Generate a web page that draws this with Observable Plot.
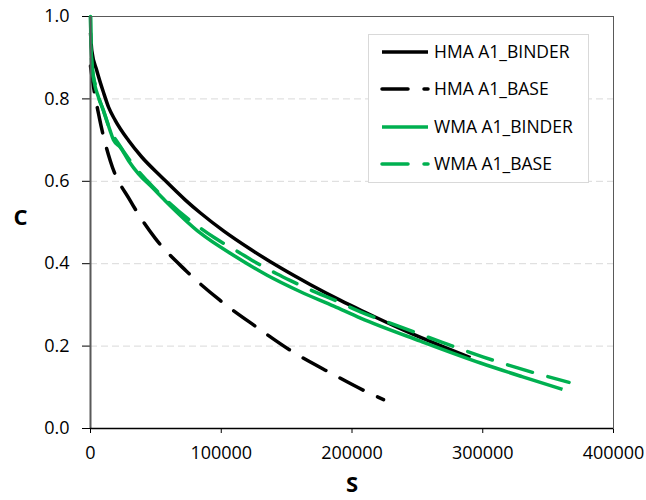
<!DOCTYPE html>
<html>
<head>
<meta charset="utf-8">
<script src="https://cdn.jsdelivr.net/npm/d3@7"></script>
<script src="https://cdn.jsdelivr.net/npm/@observablehq/plot@0.6"></script>
<style>
  html, body { margin: 0; padding: 0; background: #fff; }
  #chart { position: relative; width: 646px; height: 500px; }
</style>
</head>
<body>
<div id="chart"></div>
<script>
// ---- Data ----
const seriesNames = ["HMA A1_BINDER", "HMA A1_BASE", "WMA A1_BINDER", "WMA A1_BASE"];
const seriesColors = ["#000000", "#000000", "#00b050", "#00b050"];
const seriesDashed = [false, true, false, true];

const hmaBinderS = [0, 1000, 4800, 9900, 13800, 18900, 29100, 39200, 54500, 72400, 84100, 102000, 122400, 145300, 168300, 191200, 208800, 240000, 270000, 290600];
const hmaBinderC = [0.96, 0.917, 0.869, 0.816, 0.780, 0.748, 0.699, 0.659, 0.610, 0.555, 0.523, 0.479, 0.435, 0.390, 0.349, 0.311, 0.284, 0.238, 0.198, 0.172];

const hmaBaseS = [0, 760, 6900, 15300, 30600, 49700, 73000, 98700, 126200, 153700, 183500, 213800, 224100];
const hmaBaseC = [0.88, 0.862, 0.752, 0.648, 0.552, 0.461, 0.383, 0.312, 0.248, 0.188, 0.135, 0.085, 0.070];

const wmaBinderS = [0, 300, 2300, 6100, 9900, 15000, 17600, 22700, 29100, 36700, 46900, 57100, 84100, 109600, 135100, 160600, 186100, 206500, 252400, 298300, 330000, 361000];
const wmaBinderC = [1.0, 0.93, 0.853, 0.804, 0.772, 0.723, 0.700, 0.683, 0.650, 0.618, 0.586, 0.553, 0.474, 0.420, 0.372, 0.332, 0.297, 0.268, 0.212, 0.159, 0.126, 0.095];

const wmaBaseS = [0, 1000, 4000, 10000, 15000, 21400, 34200, 43100, 57100, 94300, 113400, 123700, 142800, 153000, 173400, 184900, 206500, 236000, 269000, 300000, 333000, 366000];
const wmaBaseC = [1.0, 0.88, 0.83, 0.77, 0.725, 0.691, 0.634, 0.602, 0.557, 0.464, 0.428, 0.408, 0.375, 0.359, 0.329, 0.314, 0.283, 0.248, 0.209, 0.174, 0.141, 0.112];

const xTicks = [0, 100000, 200000, 300000, 400000];
const yTicks = [0.0, 0.2, 0.4, 0.6, 0.8, 1.0];
const gridTicks = [0.2, 0.4, 0.6, 0.8];
const xLabel = "S";
const yLabel = "C";

// ---- Build rows ----
const allS = [hmaBinderS, hmaBaseS, wmaBinderS, wmaBaseS];
const allC = [hmaBinderC, hmaBaseC, wmaBinderC, wmaBaseC];
const rows = seriesNames.map((name, i) => allS[i].map((s, j) => ({series: name, S: s, C: allC[i][j]})));

const FONT = "'Open Sans', 'Liberation Sans', sans-serif";

const lineMarks = rows.map((data, i) => Plot.line(data, {
  x: "S", y: "C",
  stroke: seriesColors[i],
  strokeWidth: 3.5,
  strokeDasharray: seriesDashed[i] ? "26,16" : null,
  strokeLinecap: seriesDashed[i] ? "round" : "butt",
  strokeLinejoin: "round",
  curve: "monotone-x"
}));

const plot = Plot.plot({
  width: 646,
  height: 500,
  marginLeft: 90,
  marginRight: 33,
  marginTop: 16,
  marginBottom: 72,
  style: { fontFamily: FONT, fontSize: "18px", color: "#000", background: "#fff", overflow: "visible" },
  x: { domain: [0, 400000], ticks: xTicks, tickFormat: d => String(d), label: null, tickSize: 5, tickPadding: 13 },
  y: { domain: [0, 1], ticks: yTicks, tickFormat: d3.format(".1f"), label: null, tickSize: 8, tickPadding: 13 },
  marks: [
    Plot.ruleY(gridTicks, { stroke: "#d9d9d9", strokeWidth: 1, strokeDasharray: "7,4" }),
    Plot.frame({ stroke: "#595959", strokeWidth: 1 }),
    ...lineMarks,
    Plot.ruleX([0], { stroke: "#595959", strokeWidth: 2 }),
    Plot.ruleY([0], { stroke: "#000", strokeWidth: 1.5 }),
    Plot.text([yLabel], { frameAnchor: "left", text: d => d, dx: -70, dy: -5, fontSize: 22, fontWeight: "bold", textAnchor: "middle" }),
    Plot.text([xLabel], { frameAnchor: "bottom", text: d => d, dy: 63, fontSize: 22, fontWeight: "bold", textAnchor: "middle" })
  ]
});

document.getElementById("chart").appendChild(plot);

// ---- Legend (inside plot area, top-right) ----
const svg = d3.select(plot);
const lg = svg.append("g").attr("font-family", FONT).attr("font-size", 17.5).attr("text-anchor", "start");
lg.append("rect").attr("x", 368.5).attr("y", 34.5).attr("width", 220).attr("height", 148)
  .attr("fill", "#fff").attr("stroke", "#d9d9d9").attr("stroke-width", 1);
const rowY = [52, 89, 127, 164];
seriesNames.forEach((name, i) => {
  lg.append("line").attr("x1", 382).attr("x2", 428).attr("y1", rowY[i]).attr("y2", rowY[i])
    .attr("stroke", seriesColors[i]).attr("stroke-width", 3.5)
    .attr("stroke-dasharray", seriesDashed[i] ? "26,16" : null)
    .attr("stroke-linecap", seriesDashed[i] ? "round" : "butt");
  lg.append("text").attr("x", 434).attr("y", rowY[i]).attr("dy", "0.35em")
    .attr("text-anchor", "start").attr("fill", "#000").text(name);
});
</script>
</body>
</html>
